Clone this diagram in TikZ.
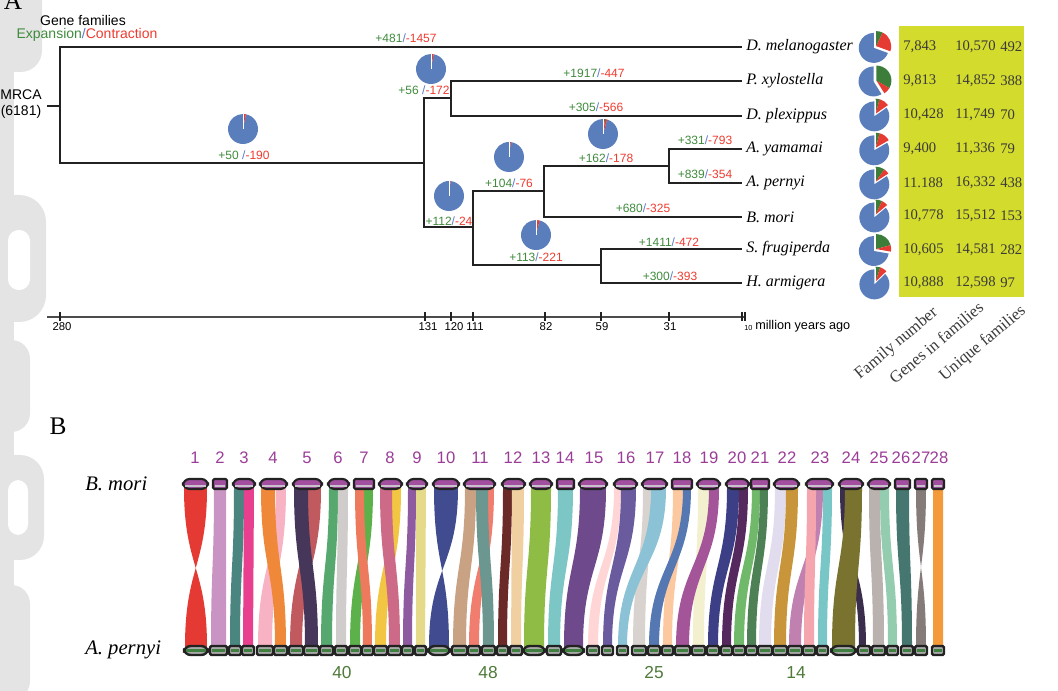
\documentclass[tikz,border=0pt]{standalone}
\usepackage{fontspec}
\setmainfont{Liberation Serif}
\setsansfont{Liberation Sans}
\definecolor{tg}{HTML}{3F8A3C}
\definecolor{tr}{HTML}{EE3B2F}
\definecolor{sb}{HTML}{5A78C8}
\definecolor{pieblue}{HTML}{5A7EBB}
\definecolor{piered}{HTML}{E53B32}
\definecolor{piegreen}{HTML}{3C7D3A}
\definecolor{treeblack}{HTML}{222222}
\definecolor{tabbg}{HTML}{D3DB2C}
\definecolor{tabtext}{HTML}{3A3A3A}
\definecolor{chrpurple}{HTML}{9B3D97}
\definecolor{lblgreen}{HTML}{4E7A3A}
\definecolor{wm}{HTML}{E4E4E4}
\definecolor{topfill}{HTML}{A24FA0}
\definecolor{topband}{HTML}{C9C1CB}
\definecolor{botfill}{HTML}{A9A9A9}
\definecolor{botband}{HTML}{3F7F3F}
\newcommand\gl[2]{{\color{tg}+#1}{\color{sb}/}{\color{tr}-#2}}
\newcommand\mypie[6]{%
\begin{scope}[shift={(#1,#2)},y=0.75pt]
\pgfmathsetmacro\pga{90-#4}%
\pgfmathsetmacro\pgb{90-#4-#5}%
\pgfmathsetmacro\pmb{(\pgb-270)/2}%
\pgfmathsetmacro\pmw{(90+\pgb)/2}%
\begin{scope}[shift={(\pmb:#6)}]
\fill[pieblue] (0,0) -- (\pgb:#3) arc[start angle=\pgb, end angle=-270, radius=#3] -- cycle;
\end{scope}
\begin{scope}[shift={(\pmw:#6)}]
\fill[piegreen] (0,0) -- (90:#3) arc[start angle=90, end angle=\pga, radius=#3] -- cycle;
\fill[piered] (0,0) -- (\pga:#3) arc[start angle=\pga, end angle=\pgb, radius=#3] -- cycle;
\end{scope}
\draw[white, line width=0.5pt] (0,0) -- (90:#3);
\end{scope}}
\newcommand\rib[5]{\definecolor{ribc}{HTML}{#5}\fill[ribc] (#1,488) .. controls (#1,567) and (#3,567) .. (#3,647) -- (#4,647) .. controls (#4,567) and (#2,567) .. (#2,488) -- cycle;}
\newcommand\ribx[5]{\definecolor{ribc}{HTML}{#5}\fill[ribc] (#1,488) .. controls (#1,567) and (#4,567) .. (#4,647) -- (#3,647) .. controls (#3,567) and (#2,567) .. (#2,488) -- cycle;}
\newcommand\tbar[3]{\filldraw[line width=1.6pt, draw=treeblack, fill=topfill, rounded corners=#3] (#1,479) rectangle (#2,489);
\fill[topband] (#1+2,485) rectangle (#2-2,487.5);}
\newcommand\bbar[3]{\filldraw[line width=1.8pt, draw=treeblack, fill=botfill, rounded corners=#3] (#1,646) rectangle (#2,655);
\fill[botband] (#1+2,649.3) rectangle (#2-2,651.8);}
\begin{document}
\begin{tikzpicture}[x=0.75pt,y=-0.75pt,
  lab/.style={font=\sffamily\fontsize{9}{10}\selectfont, inner sep=0},
  leaf/.style={font=\rmfamily\itshape\fontsize{12}{14}\selectfont, anchor=west, inner sep=0},
  tab/.style={font=\rmfamily\fontsize{11}{13}\selectfont, anchor=west, inner sep=0, text=tabtext},
  rot/.style={font=\rmfamily\fontsize{12.5}{14}\selectfont, rotate=40, anchor=east, inner sep=0, text=tabtext},
  chn/.style={font=\sffamily\fontsize{12.5}{14}\selectfont, text=chrpurple, inner sep=0},
  grn/.style={font=\sffamily\fontsize{13}{14}\selectfont, text=lblgreen, inner sep=0},
  tree/.style={line width=1.6pt, draw=treeblack, line join=miter},
  tick/.style={line width=0.8pt, draw=treeblack}]
\useasboundingbox (0,0) rectangle (1058,691);
% watermark remnants at the left edge
\fill[wm] (0,0) rectangle (14,691);
\fill[wm, rounded corners=16] (-20,-20) rectangle (42,72);
\fill[wm, rounded corners=20] (-20,195) rectangle (46,322);
\fill[wm, rounded corners=14] (-20,340) rectangle (30,432);
\fill[wm, rounded corners=18] (-20,455) rectangle (44,560);
\fill[wm, rounded corners=14] (-20,585) rectangle (30,700);
\fill[white, rounded corners=8] (8,230) rectangle (30,290);
\fill[white, rounded corners=8] (8,480) rectangle (28,535);

% panel labels
\node[font=\rmfamily\fontsize{19}{20}\selectfont, inner sep=0] (pA) at (13,1) {A};
\node[font=\rmfamily\fontsize{19}{20}\selectfont, inner sep=0] (pB) at (58,426) {B};

% legend
\node[font=\sffamily\fontsize{10.5}{12}\selectfont, inner sep=0] (gf) at (83,21) {Gene families};
\node[font=\sffamily\fontsize{10.5}{12}\selectfont, inner sep=0] (ec) at (87,35) {{\color{tg}Expansion}{\color{sb}/}{\color{tr}Contraction}};
\node[font=\sffamily\fontsize{10.5}{12}\selectfont, inner sep=0, align=center] (mrca) at (21,104) {MRCA\\(6181)};

% tree coordinates
\coordinate (stub) at (47,106);
\coordinate (root) at (60,106);
\coordinate (n131) at (424,163);
\coordinate (n120) at (451,98);
\coordinate (n111) at (473,227);
\coordinate (n82) at (544,191);
\coordinate (n31) at (669,166);
\coordinate (n59) at (601,265);
\coordinate (Lmel) at (742,47);
\coordinate (Lxyl) at (742,81);
\coordinate (Lple) at (742,116);
\coordinate (Lyam) at (742,149);
\coordinate (Lper) at (742,183);
\coordinate (Lmor) at (742,217);
\coordinate (Lfru) at (742,249);
\coordinate (Larm) at (742,283);

\draw[tree] (stub) -- (root);
\draw[tree] (root) |- (Lmel);
\draw[tree] (root) |- (n131);
\draw[tree] (n131) |- (n120);
\draw[tree] (n131) |- (n111);
\draw[tree] (n120) |- (Lxyl);
\draw[tree] (n120) |- (Lple);
\draw[tree] (n111) |- (n82);
\draw[tree] (n111) |- (n59);
\draw[tree] (n82) |- (n31);
\draw[tree] (n82) |- (Lmor);
\draw[tree] (n31) |- (Lyam);
\draw[tree] (n31) |- (Lper);
\draw[tree] (n59) |- (Lfru);
\draw[tree] (n59) |- (Larm);

% leaf labels
\node[leaf] (mel) at (746,47) {D. melanogaster};
\node[leaf] (xyl) at (746,81) {P. xylostella};
\node[leaf] (ple) at (746,116) {D. plexippus};
\node[leaf] (yam) at (746,149) {A. yamamai};
\node[leaf] (per) at (746,183) {A. pernyi};
\node[leaf] (mor) at (746,217) {B. mori};
\node[leaf] (fru) at (746,249) {S. frugiperda};
\node[leaf] (arm) at (746,283) {H. armigera};

% branch labels
\node[lab] (b1) at (406,38) {\gl{481}{1457}};
\node[lab] (b2) at (244,155) {{\color{tg}+50 }{\color{sb}/}{\color{tr}-190}};
\node[lab] (b3) at (424,90) {{\color{tg}+56 }{\color{sb}/}{\color{tr}-172}};
\node[lab] (b4) at (594,73) {\gl{1917}{447}};
\node[lab] (b5) at (596,107) {\gl{305}{566}};
\node[lab] (b6) at (606,158) {\gl{162}{178}};
\node[lab] (b7) at (705,140) {\gl{331}{793}};
\node[lab] (b8) at (705,174) {\gl{839}{354}};
\node[lab] (b9) at (509,183) {\gl{104}{76}};
\node[lab] (b10) at (449,221) {{\color{tg}+112}{\color{sb}/}{\color{tr} -24}};
\node[lab] (b11) at (643,208) {\gl{680}{325}};
\node[lab] (b12) at (536,257) {\gl{113}{221}};
\node[lab] (b13) at (669,242) {\gl{1411}{472}};
\node[lab] (b14) at (670,276) {\gl{300}{393}};

% internal pies
\mypie{243}{129}{15}{3}{8}{0}
\mypie{431}{69}{15}{2}{8}{0}
\mypie{449}{196}{15}{4}{2}{0}
\mypie{509}{157}{15}{4}{3}{0}
\mypie{603}{134}{15}{8}{8}{0}
\mypie{536}{235}{15}{5}{9}{0}

% leaf pies
\mypie{875}{47}{15}{25}{85}{1.5}
\mypie{875}{81}{15}{120}{28}{1.5}
\mypie{875}{115}{15}{15}{40}{1.5}
\mypie{875}{149}{15}{15}{45}{1.5}
\mypie{875}{183}{15}{35}{22}{1.5}
\mypie{875}{216}{15}{25}{25}{1.5}
\mypie{875}{250}{15}{75}{25}{1.5}
\mypie{875}{283}{15}{18}{28}{1.5}

% table
\fill[tabbg] (899,26) rectangle (1024,297);
\foreach \y/\a/\b/\c [count=\i] in {47/{7,843}/{10,570}/492, 81/{9,813}/{14,852}/388, 115/{10,428}/{11,749}/70, 149/{9,400}/{11,336}/79, 183/{11.188}/{16,332}/438, 216/{10,778}/{15,512}/153, 250/{10,605}/{14,581}/282, 283/{10,888}/{12,598}/97}{
  \node[tab] (ta\i) at (903,\y) {\a};
  \node[tab] (tb\i) at (955,\y) {\b};
  \node[tab] (tc\i) at (1000,\y) {\c};
}
\node[rot] (h1) at (936,311) {Family number};
\node[rot] (h2) at (981,305) {Genes in families};
\node[rot] (h3) at (1024,309) {Unique families};

% time axis
\coordinate (ax0) at (47,317);
\coordinate (ax1) at (744,317);
\draw[line width=2.2pt, draw=black!70] (ax0) -- (ax1);
\foreach \x in {60,425,451,473,545,601,669,742,745}{
  \draw[tick] (\x,312) -- (\x,321);
}
\foreach \x/\t [count=\i] in {62/280,428/131,454/120,475/111,546/82,602/59,670/31}{
  \node[font=\sffamily\fontsize{8.5}{10}\selectfont, inner sep=0] (tl\i) at (\x,327) {\t};
}
\node[font=\sffamily\fontsize{5.5}{6}\selectfont, inner sep=0, anchor=west] (tl10) at (744,328) {10};
\node[font=\sffamily\fontsize{9.5}{11}\selectfont, inner sep=0, anchor=west] (mya) at (755,326) {million years ago};

% ---------- panel B ----------
\node[font=\rmfamily\itshape\fontsize{15.5}{17}\selectfont, inner sep=0, anchor=west] (sbm) at (85,484) {B. mori};
\node[font=\rmfamily\itshape\fontsize{15.5}{17}\selectfont, inner sep=0, anchor=west] (sap) at (85,650) {A. pernyi};

% ribbons
\ribx{184}{207}{185}{207}{E53A33}
\rib{214}{226}{211}{226}{C994C3}
\rib{234}{244}{230}{240}{4A8580}
\rib{244}{254}{243}{253}{E8408F}
\rib{276}{286}{258}{272}{F7B3C3}
\rib{261}{275}{275}{286}{F0883A}
\rib{308}{321}{290}{302}{C05A5E}
\rib{294}{308}{305}{318}{45365A}
\rib{329}{338}{321}{332}{56A86E}
\rib{338}{348}{336}{346}{D0CCCB}
\rib{364}{373}{350}{360}{5DB14A}
\rib{355}{364}{363}{372}{EE7A5E}
\rib{392}{401}{375}{386}{F2C542}
\rib{380}{392}{389}{400}{CC6A88}
\rib{408}{416}{403}{412}{8E5AA0}
\rib{416}{426}{416}{425}{E5D98A}
\ribx{434}{458}{429}{449}{414C90}
\rib{488}{494}{469}{479}{F07D6E}
\rib{465}{476}{453}{466}{C9A284}
\rib{476}{488}{483}{494}{6C9690}
\rib{503}{512}{498}{507}{6B2A28}
\rib{512}{524}{511}{521}{F0CFA0}
\rib{531}{551}{524}{544}{8FBC44}
\rib{558}{573}{548}{560}{7CC7C6}
\rib{580}{606}{564}{583}{6E4A8C}
\rib{614}{621}{588}{598}{FFD5D5}
\rib{621}{636}{603}{612}{6A5A9E}
\rib{643}{651}{633}{645}{D9D3D0}
\rib{651}{666}{618}{627}{8BC2D6}
\rib{673}{683}{663}{672}{FCC8A0}
\rib{683}{691}{649}{659}{5578B2}
\rib{698}{709}{693}{704}{F3F0CF}
\rib{709}{719}{676}{689}{A4559A}
\rib{727}{739}{708}{718}{3C3F86}
\rib{739}{748}{722}{731}{55285E}
\rib{752}{760}{734}{744}{70B86A}
\rib{760}{768}{747}{756}{4D8055}
\rib{775}{786}{759}{771}{E2DDEE}
\rib{786}{798}{774}{786}{C9953A}
\rib{816}{823}{789}{801}{C080B0}
\rib{807}{816}{804}{814}{F4A5AE}
\rib{823}{832}{818}{827}{79C6C7}
\rib{840}{845}{859}{866}{3A2E4C}
\rib{845}{862}{832}{855}{7A7330}
\rib{869}{880}{873}{884}{BAB2AE}
\rib{880}{889}{888}{897}{93CCAE}
\rib{896}{909}{902}{912}{45766F}
\ribx{916}{926}{916}{926}{857B78}
\rib{933}{943}{933}{943}{F49A3A}

% B. mori chromosomes (top) with numbers
\foreach \a/\b/\r/\c [count=\i] in {183/208/5/195,213/227/1/220,233/255/5/244,260/287/5/273,293/322/5/307,328/349/5/338,354/374/1/364,379/402/5/390,407/427/5/417,433/459/5/446,464/495/5/480,502/525/5/513,530/552/5/541,557/574/1/565,579/607/5/594,614/637/5/626,642/667/5/655,672/692/1/682,697/720/5/709,726/749/5/737,751/769/1/760,774/799/5/787,806/833/5/820,839/863/5/851,868/890/5/879,895/910/1/901,915/927/1/921,932/944/1/939}{
  \tbar{\a}{\b}{\r}
  \node[chn] (cn\i) at (\c,458) {\i};
}
% A. pernyi chromosomes (bottom)
\foreach \a/\b/\r in {184/208/5,210/227/1,229/241/1,242/254/1,257/273/1,274/287/1,289/303/1,304/319/1,320/333/1,335/347/1,349/361/1,362/373/1,374/387/1,388/401/1,402/413/1,415/426/1,428/450/5,452/467/1,468/480/1,482/495/1,497/508/1,510/522/1,523/545/5,547/561/1,563/584/5,587/599/1,602/613/1,617/628/1,632/646/1,648/660/1,662/673/1,675/690/1,692/705/1,707/719/1,721/732/1,733/745/1,746/757/1,758/772/1,773/787/1,788/802/1,803/815/1,817/828/1,831/856/5,858/870/1,872/885/1,887/898/1,901/913/1,915/927/1,932/944/1}{
  \bbar{\a}{\b}{\r}
}
\node[grn] (g40) at (342,673) {40};
\node[grn] (g48) at (488,673) {48};
\node[grn] (g25) at (654,673) {25};
\node[grn] (g14) at (796,673) {14};
\end{tikzpicture}
\end{document}
